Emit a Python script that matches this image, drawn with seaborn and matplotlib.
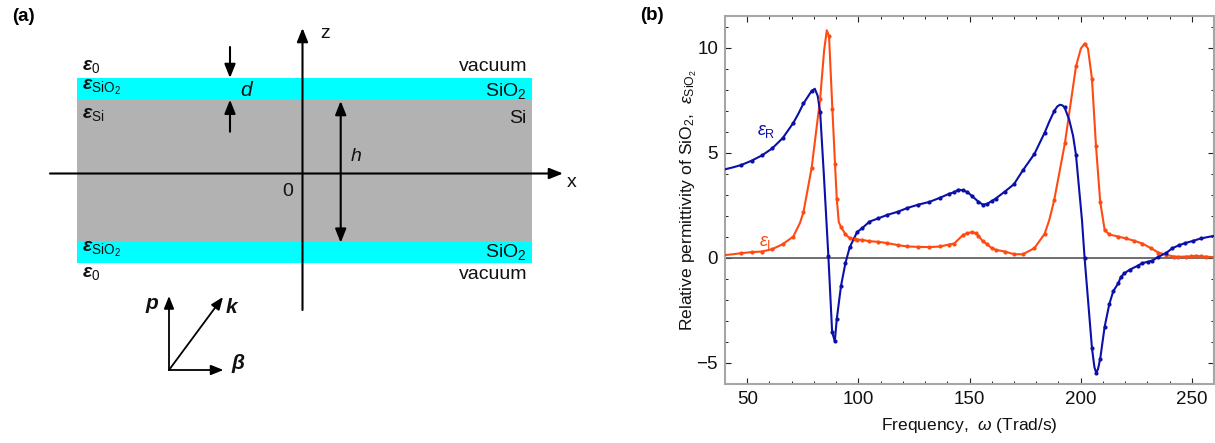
import numpy as np
import pandas as pd
import matplotlib
matplotlib.use('Agg')
import matplotlib.pyplot as plt
import seaborn as sns

# --- values ---
# points that carry a marker
real_x = [47.2, 52, 56.6, 61.2, 66, 70.7, 75.3, 79, 82.8, 86.5, 88.2, 89.4, 90.3, 92.2, 94.2, 96.1,
          99.4, 101.8, 105, 109, 113, 118, 122, 127, 132, 136.8, 140.7, 143.1, 145, 147, 149, 150.9,
          154, 156, 157.8, 159.9, 161.8, 165.9, 170, 174, 179.2, 183.8, 188.1, 192.8, 197.9, 201.8,
          205.1, 207, 208.8, 210.8, 212.9, 214.7, 217, 218, 219.6, 222, 225.6, 227.8, 230.2, 232.3,
          235, 238.6, 241.3, 244.3, 247, 250.7, 254]
real_y = [4.41, 4.62, 4.87, 5.2, 5.7, 6.41, 7.34, 7.94, 6.95, 0.09, -3.53, -3.97, -2.9, -1.33, -0.24, 0.5,
          1.22, 1.42, 1.72, 1.88, 2.04, 2.2, 2.37, 2.53, 2.66, 2.86, 3.04, 3.12, 3.24, 3.21, 3.13, 2.96,
          2.67, 2.53, 2.56, 2.69, 2.82, 3.15, 3.5, 4.16, 4.94, 5.95, 6.98, 7.15, 4.9, -0.03,
          -4.3, -5.46, -4.8, -3.28, -2.2, -1.58, -1.2, -0.93, -0.74, -0.57, -0.38, -0.25, -0.19, -0.13,
          0.05, 0.24, 0.46, 0.6, 0.7, 0.81, 0.92]
# curve only points (ends and peaks between markers)
real_extra_x = [40, 43.5, 73, 80.4, 81.7, 84.5, 186, 189.5, 190.7, 191.8, 194.9, 196.6, 200.6, 206.2, 207.8, 259.7]
real_extra_y = [4.21, 4.3, 6.85, 8.04, 7.7, 3.9, 6.5, 7.2, 7.28, 7.25, 6.55, 5.8, 1.8, -5.2, -5.3, 1.04]

imag_x = [47.2, 52, 56.6, 61.2, 66, 70.7, 75.3, 79, 82.8, 86.8, 88.3, 89.5, 90.3, 92.2, 94.2, 96.1,
          98.4, 99.4, 101.8, 105, 109, 113, 118, 122, 127, 132, 136.8, 140.7, 143.1, 147, 149, 151, 153,
          154, 156, 157.8, 159.9, 161.8, 165.9, 170, 174, 179.2, 183.8, 188.1, 192.9, 197.9, 201.8,
          205.1, 206.9, 208.8, 210.8, 212.9, 217, 220.4, 224.1, 227.8, 231.6, 235, 238.6, 242, 244,
          247.3, 249.5, 251.8, 254, 256.3]
imag_y = [0.22, 0.27, 0.3, 0.41, 0.65, 1.01, 2.17, 4.29, 7.56, 10.55, 7.1, 4.45, 2.78, 1.46, 1.12, 0.93,
          0.89, 0.87, 0.85, 0.79, 0.76, 0.7, 0.6, 0.54, 0.52, 0.51, 0.54, 0.63, 0.68, 1.08, 1.17, 1.22, 1.16,
          1.06, 0.78, 0.66, 0.47, 0.38, 0.3, 0.17, 0.17, 0.46, 1.14, 2.74, 5.44, 9.1, 10.19,
          8.51, 5.33, 2.67, 1.33, 1.11, 1.01, 0.92, 0.81, 0.68, 0.46, 0.25, 0.14, 0.06, 0.05,
          0.06, 0.07, 0.1, 0.07, 0.06]
imag_extra_x = [40, 43.5, 73.7, 84.6, 85.8, 91.2, 185.9, 200.1, 203.3, 259.7]
imag_extra_y = [0.13, 0.17, 1.65, 9.87, 10.82, 1.7, 1.8, 9.95, 9.95, 0.03]

x_major = [50, 100, 150, 200, 250]
y_major = [-5, 0, 5, 10]

# --- colours ---
BLUE = '#0B10A8'
ORANGE = '#FF4A12'
CYAN = '#00FFFF'
GREY = '#B2B2B2'
FRAME = '#A6A6A6'
INK = '#111111'

sns.set_theme(style='ticks')
plt.rcParams['font.family'] = ['Liberation Sans', 'DejaVu Sans']
plt.rcParams['mathtext.fontset'] = 'custom'
plt.rcParams['mathtext.rm'] = 'Liberation Sans'
plt.rcParams['mathtext.it'] = 'Liberation Sans:italic'
plt.rcParams['mathtext.bf'] = 'Liberation Sans:bold'
plt.rcParams['mathtext.bfit'] = 'Liberation Sans:italic:bold'

W, H = 1215, 443
fig = plt.figure(figsize=(W / 100, H / 100), dpi=100)

# --- Panel (a): drawn in pixel coordinates ---
ax_a = fig.add_axes([0, 0, 640 / W, 1])
ax_a.set_xlim(0, 640)
ax_a.set_ylim(H, 0)
ax_a.axis('off')


def band(y0, y1, color):
    ax_a.fill_between([77, 532], y0, y1, color=color, lw=0, zorder=1)


def arrow(x0, y0, x1, y1, style='-|>,head_length=0.75,head_width=0.3', scale=11, lw=1.5):
    ax_a.annotate('', xy=(x1, y1), xytext=(x0, y0), zorder=3,
                  arrowprops=dict(arrowstyle=style, color='black', lw=lw, mutation_scale=scale,
                                  shrinkA=0, shrinkB=0))


band(78, 99.7, CYAN)
band(99.7, 241, GREY)
band(241, 262.7, CYAN)

arrow(50, 173.5, 563, 173.5)
arrow(302.5, 310, 302.5, 28)
arrow(340.7, 242.7, 340.7, 101, style='<|-|>,head_length=0.75,head_width=0.3')
arrow(230, 47, 230, 78)
arrow(230, 131.7, 230, 99.7)
arrow(169, 370, 169, 296, scale=10, lw=1.3)
arrow(169, 370, 223, 297, scale=10, lw=1.3)
arrow(169, 370, 223.5, 370, scale=10, lw=1.3)

FS = 14
eps_labels = [(82, 70, r'$\mathbfit{\varepsilon}_{0}$'),
              (82, 90, r'$\mathbfit{\varepsilon}_{\mathrm{SiO}_2}$'),
              (82, 118, r'$\mathbfit{\varepsilon}_{\mathrm{Si}}$'),
              (82, 252, r'$\mathbfit{\varepsilon}_{\mathrm{SiO}_2}$'),
              (82, 277, r'$\mathbfit{\varepsilon}_{0}$')]
for x, y, s in eps_labels:
    ax_a.text(x, y, s, fontsize=FS, ha='left', va='baseline', color=INK, zorder=4)

mat_labels = [(527, 70.5, 'vacuum'), (527, 96, r'SiO$_2$'), (527, 122.5, 'Si'),
              (527, 257, r'SiO$_2$'), (527, 279, 'vacuum')]
for x, y, s in mat_labels:
    ax_a.text(x, y, s, fontsize=FS, ha='right', va='baseline', color=INK, zorder=4)

ax_a.text(246, 96, 'd', fontsize=FS + 1, style='italic', ha='center', va='baseline', color=INK, zorder=4)
ax_a.text(356.5, 161, 'h', fontsize=FS, style='italic', ha='center', va='baseline', color=INK, zorder=4)
ax_a.text(288, 196, '0', fontsize=FS, ha='center', va='baseline', color=INK, zorder=4)
ax_a.text(325, 38, 'z', fontsize=FS, ha='center', va='baseline', color=INK)
ax_a.text(572, 187, 'x', fontsize=FS, ha='center', va='baseline', color=INK)
ax_a.text(152.5, 309, r'$\mathbfit{p}$', fontsize=FS + 1, ha='center', va='baseline', color=INK)
ax_a.text(232, 313, r'$\mathbfit{k}$', fontsize=FS + 1, ha='center', va='baseline', color=INK)
ax_a.text(238, 369, r'$\mathbfit{\beta}$', fontsize=FS + 1, ha='center', va='baseline', color=INK)
ax_a.text(12.5, 20.5, '(a)', fontsize=13.5, weight='bold', ha='left', va='baseline', color='black')

# --- Panel (b) ---
ax_b = fig.add_axes([725 / W, (H - 384) / H, 489 / W, 368 / H])


def draw_curve(xs, ys, ex, ey, color, name):
    df = pd.DataFrame({'freq': list(xs) + list(ex), 'eps': list(ys) + list(ey)}).sort_values('freq')
    sns.lineplot(data=df, x='freq', y='eps', color=color, lw=1.5, estimator=None, ax=ax_b, label=name,
                 legend=False, zorder=3)
    sns.scatterplot(x=xs, y=ys, color=color, s=9, linewidth=0, ax=ax_b, legend=False, zorder=4)


draw_curve(imag_x, imag_y, imag_extra_x, imag_extra_y, ORANGE, 'imag')
draw_curve(real_x, real_y, real_extra_x, real_extra_y, BLUE, 'real')
ax_b.axhline(0, color='#555555', lw=1.2, zorder=2)

ax_b.set_xlim(40, 260)
ax_b.set_ylim(-6, 11.5)
ax_b.set_xticks(x_major)
ax_b.set_yticks(y_major)
ax_b.set_xticks(np.arange(40, 261, 10), minor=True)
ax_b.set_yticks(np.arange(-6, 12, 1), minor=True)
ax_b.set_yticklabels(['\u22125', '0', '5', '10'])
ax_b.tick_params(axis='both', which='major', direction='in', length=4, width=0.8, color='#222222',
                 labelsize=13.5, top=True, right=True, pad=5, labelcolor=INK)
ax_b.tick_params(axis='both', which='minor', direction='in', length=2, width=0.7, color='#222222',
                 top=True, right=True)
for side in ax_b.spines.values():
    side.set_color(FRAME)
    side.set_linewidth(1.5)

ax_b.set_xlabel(r'Frequency,  $\omega$ (Trad/s)', fontsize=12.5, color=INK, labelpad=6)
ax_b.set_ylabel(r'Relative permittivity of SiO$_2$,  $\epsilon_{\mathrm{SiO}_2}$', fontsize=12.6,
                color=INK, labelpad=-2)
ax_b.text(58.5, 5.85, r'$\epsilon_{\mathrm{R}}$', color=BLUE, fontsize=13, ha='center', va='baseline')
ax_b.text(58, 0.55, r'$\epsilon_{\mathrm{I}}$', color=ORANGE, fontsize=13, ha='center', va='baseline')
fig.text(640 / W, 1 - 20.5 / H, '(b)', fontsize=13.5, weight='bold', ha='left', va='baseline', color='black')

fig.savefig('out.png', dpi=100)
